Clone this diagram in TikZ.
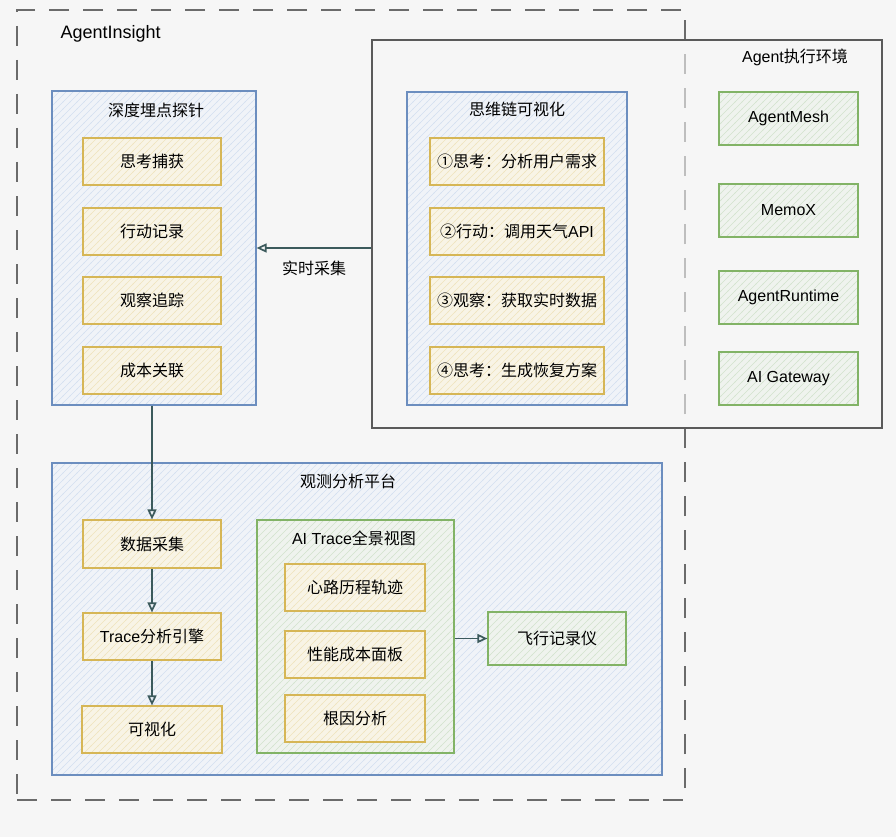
\documentclass[tikz,border=0pt]{standalone}
\usepackage{fontspec}
\setmainfont{Noto Sans CJK SC}
\newfontfamily\lat{Liberation Sans}
\usetikzlibrary{arrows.meta, positioning, patterns.meta}

\definecolor{bgcol}{HTML}{F6F6F6}
\definecolor{blueLine}{HTML}{6C8EBF}
\definecolor{blueFill}{HTML}{F0F3F8}
\definecolor{blueHatch}{HTML}{D3DFF0}
\definecolor{yellowLine}{HTML}{D6B656}
\definecolor{yellowFill}{HTML}{F8F4E6}
\definecolor{yellowHatch}{HTML}{EFE3BC}
\definecolor{greenLine}{HTML}{82B366}
\definecolor{greenFill}{HTML}{EFF3EE}
\definecolor{greenHatch}{HTML}{D2E3CC}
\definecolor{frameGray}{HTML}{6B6B6B}
\definecolor{envGray}{HTML}{5A5A5A}
\definecolor{arrowCol}{HTML}{3C5A5C}

\tikzdeclarepattern{
  name=hachure,
  type=uncolored,
  bottom left={(-0.5pt,-0.5pt)},
  top right={(7.5pt,7.5pt)},
  tile size={(7pt,7pt)},
  code={\draw[line width=0.6pt] (-0.5pt,-0.5pt) -- (7.5pt,7.5pt);}
}

\tikzset{
  txt/.style={font=\fontsize{16}{19}\selectfont, text=black},
  bluebox/.style={draw=blueLine, line width=1.2pt, preaction={fill=blueFill},
    pattern=hachure, pattern color=blueHatch},
  greenbox/.style={draw=greenLine, line width=1.2pt, preaction={fill=greenFill},
    pattern=hachure, pattern color=greenHatch, txt},
  yellowbox/.style={draw=yellowLine, line width=1.2pt, preaction={fill=yellowFill},
    pattern=hachure, pattern color=yellowHatch,
    minimum width=138pt, minimum height=47pt, txt},
  flow/.style={draw=arrowCol, line width=1.7pt,
    -{Triangle[open, length=10pt, width=9pt]}}
}

\begin{document}
\begin{tikzpicture}[x=1pt, y=-1pt]

  % background
  \fill[bgcol] (0,0) rectangle (896,837);
  \useasboundingbox (0,0) rectangle (896,837);

  % outer frame
  \node[draw=frameGray, line width=2.5pt, dash pattern=on 20pt off 14pt,
    minimum width=668pt, minimum height=790pt] (insight) at (351,405) {};
  \node[anchor=west, font=\lat\fontsize{18}{21}\selectfont] (insighttitle) at (57,34) {AgentInsight};

  % agent environment
  \node[draw=envGray, line width=1.2pt, fill=bgcol, fill opacity=0.6,
    minimum width=510pt, minimum height=388pt] (env) at (627,234) {};
  \node[txt] (envtitle) at (795,57) {{\lat Agent}执行环境};
  \node[greenbox, minimum width=139pt, minimum height=53pt] (mesh) at (788.5,118.5) {\lat AgentMesh};
  \node[greenbox, minimum width=139pt, minimum height=53pt] (memox) at (788.5,210.5) {\lat MemoX};
  \node[greenbox, minimum width=139pt, minimum height=53pt] (runtime) at (788.5,297.5) {\lat AgentRuntime};
  \node[greenbox, minimum width=139pt, minimum height=53pt] (gateway) at (788.5,378.5) {\lat AI Gateway};

  % probes
  \node[bluebox, minimum width=204pt, minimum height=314pt] (probe) at (154,248) {};
  \node[txt] (probetitle) at (156,110) {深度埋点探针};
  \node[yellowbox] (think) at (152,161.5) {思考捕获};
  \node[yellowbox] (act) at (152,231.5) {行动记录};
  \node[yellowbox] (observe) at (152,300.5) {观察追踪};
  \node[yellowbox] (cost) at (152,370.5) {成本关联};

  % chain of thought
  \node[bluebox, minimum width=220pt, minimum height=313pt] (chain) at (517,248.5) {};
  \node[txt] (chaintitle) at (517,109) {思维链可视化};
  \node[yellowbox, minimum width=174pt] (step1) at (517,161.5) {①思考：分析用户需求};
  \node[yellowbox, minimum width=174pt] (step2) at (517,231.5) {②行动：调用天气{\lat API}};
  \node[yellowbox, minimum width=174pt] (step3) at (517,300.5) {③观察：获取实时数据};
  \node[yellowbox, minimum width=174pt] (step4) at (517,370.5) {④思考：生成恢复方案};

  % platform
  \node[bluebox, minimum width=610pt, minimum height=312pt] (platform) at (357,619) {};
  \node[txt] (platformtitle) at (348,481) {观测分析平台};
  \node[yellowbox, minimum height=48pt] (collect) at (152,544) {数据采集};
  \node[yellowbox] (engine) at (152,636.5) {{\lat Trace}分析引擎};
  \node[yellowbox, minimum width=140pt] (visual) at (152,729.5) {可视化};

  \node[greenbox, minimum width=197pt, minimum height=233pt] (panorama) at (355.5,636.5) {};
  \node[txt] (panoramatitle) at (354,538) {{\lat AI Trace}全景视图};
  \node[yellowbox, minimum width=140pt] (track) at (355,587.5) {心路历程轨迹};
  \node[yellowbox, minimum width=140pt] (board) at (355,654.5) {性能成本面板};
  \node[yellowbox, minimum width=140pt] (rootcause) at (355,718.5) {根因分析};

  \node[greenbox, minimum width=138pt, minimum height=53pt] (recorder) at (557,638.5) {飞行记录仪};

  % connectors
  \draw[flow] (probe.east -| env.west) -- node[txt, below=9pt] {实时采集} (probe.east);
  \draw[flow] (probe.south -| collect.north) -- (collect.north);
  \draw[flow] (collect) -- (engine);
  \draw[flow] (engine) -- (visual);
  \draw[flow] (panorama.east |- recorder.west) -- (recorder.west);

\end{tikzpicture}
\end{document}
